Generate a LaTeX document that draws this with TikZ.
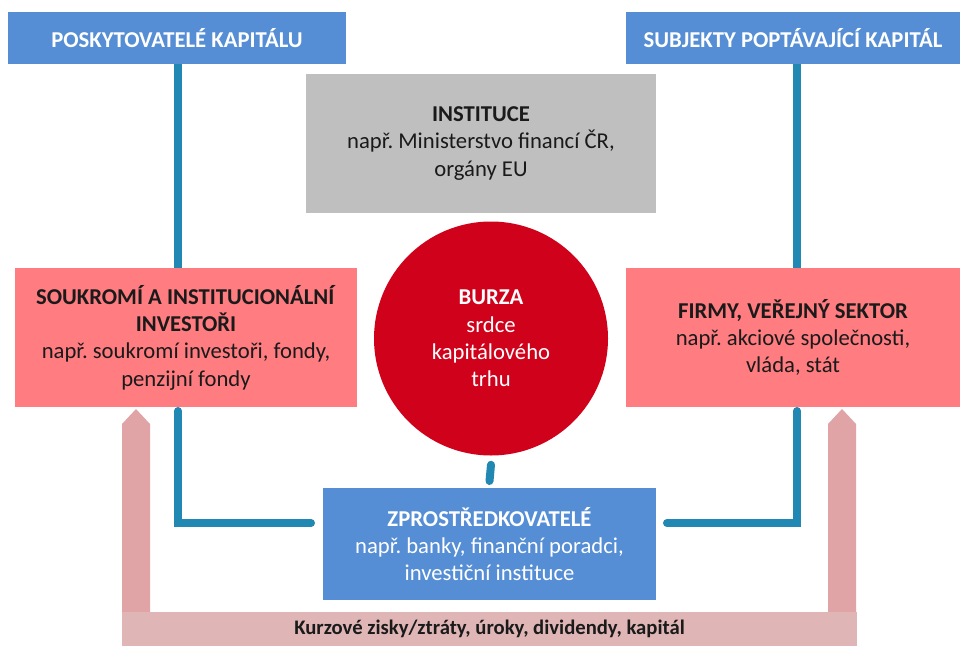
\documentclass[tikz,border=0pt]{standalone}
\usepackage{fontspec}
\setmainfont{Carlito}
\frenchspacing
\definecolor{hdrblue}{HTML}{558ED5}
\definecolor{pinkbox}{HTML}{FF7C80}
\definecolor{graybox}{HTML}{BFBFBF}
\definecolor{burzared}{HTML}{D0021B}
\definecolor{linkblue}{HTML}{2187B3}
\definecolor{arrowpink}{HTML}{E0A4A6}
\definecolor{barpink}{HTML}{E0B5B6}
\definecolor{txtdark}{HTML}{1A1A1A}
\tikzset{
  box/.style={rectangle, inner sep=0pt, outer sep=0pt, align=center,
    font=\fontsize{17}{20.5}\selectfont},
  hdr/.style={box, fill=hdrblue, text=white, font=\fontsize{17}{20.5}\selectfont\bfseries},
  conn/.style={draw=linkblue, line width=6pt, line cap=round, line join=miter},
}
\begin{document}
\begin{tikzpicture}[x=0.75pt, y=-0.75pt]
\useasboundingbox (0,0) rectangle (960,646);
\fill[white] (0,0) rectangle (960,646);

% helper coordinates for connector positions
\coordinate (xl) at (178,0);
\coordinate (xr) at (797,0);
\coordinate (yh) at (0,523);

% feedback arrows and bar
\fill[arrowpink] (122,612) -- (122,424) -- (136,409) -- (150,424) -- (150,612) -- cycle;
\fill[arrowpink] (828,612) -- (828,424) -- (842,409) -- (856,424) -- (856,612) -- cycle;
\node[box, fill=barpink, minimum width=735*0.75pt, minimum height=34*0.75pt,
  text=txtdark, font=\fontsize{15.5}{18}\selectfont\bfseries] (bar) at (489.5,629)
  {Kurzové zisky/ztráty, úroky, dividendy, kapitál};

% nodes
\node[hdr, minimum width=338*0.75pt, minimum height=52*0.75pt] (tl) at (177,38) {POSKYTOVATELÉ KAPITÁLU};
\node[hdr, minimum width=334*0.75pt, minimum height=52*0.75pt] (tr) at (793,38) {SUBJEKTY POPTÁVAJÍCÍ KAPITÁL};
\node[box, fill=graybox, text=txtdark, minimum width=350*0.75pt, minimum height=139*0.75pt] (inst) at (481,143.5)
  {\textbf{INSTITUCE}\\např. Ministerstvo financí ČR,\\orgány EU};
\node[box, fill=pinkbox, text=txtdark, minimum width=342*0.75pt, minimum height=139*0.75pt] (inv) at (186,337.5)
  {\textbf{SOUKROMÍ A INSTITUCIONÁLNÍ}\\\textbf{INVESTOŘI}\\např. soukromí investoři, fondy,\\penzijní fondy};
\node[box, fill=pinkbox, text=txtdark, minimum width=334*0.75pt, minimum height=139*0.75pt] (firm) at (793,337.5)
  {\textbf{FIRMY, VEŘEJNÝ SEKTOR}\\např. akciové společnosti,\\vláda, stát};
\node[circle, fill=burzared, text=white, minimum size=234*0.75pt, inner sep=0pt, align=center,
  font=\fontsize{17}{20.5}\selectfont] (burza) at (491,338.5)
  {\textbf{BURZA}\\srdce\\kapitálového\\trhu};
\node[box, fill=hdrblue, text=white, minimum width=333*0.75pt, minimum height=112*0.75pt] (zp) at (489.5,544)
  {\textbf{ZPROSTŘEDKOVATELÉ}\\např. banky, finanční poradci,\\investiční instituce};

% connectors
\draw[conn, line cap=butt] (tl.south -| xl) -- (inv.north -| xl);
\draw[conn, line cap=butt] (tr.south -| xr) -- (firm.north -| xr);
\draw[conn] ([yshift=-4*0.75pt]inv.south -| xl) |- ([xshift=-12*0.75pt]zp.west |- yh);
\draw[conn] ([yshift=-4*0.75pt]firm.south -| xr) |- ([xshift=11*0.75pt]zp.east |- yh);
\draw[conn] ([yshift=-9*0.75pt]burza.south) -- ([yshift=7*0.75pt]zp.north);
\end{tikzpicture}
\end{document}
